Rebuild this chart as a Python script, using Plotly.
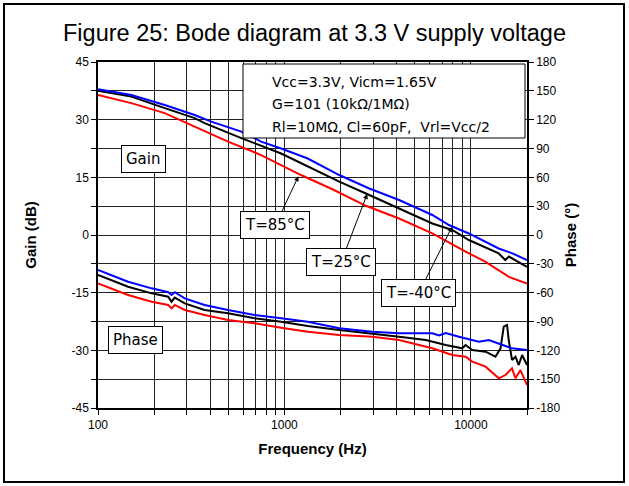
import numpy as np
import plotly.graph_objects as go

# Gain curves (dB, left axis)
freq_gain_blue = [100, 151, 228, 330, 405, 587, 750, 960, 1333, 1968, 2850, 4120, 6210, 7630, 9750, 14100, 16560, 20000]
gain_blue = [37.9, 36.4, 33.8, 31.2, 29.5, 26.9, 24.3, 22.5, 19.9, 15.6, 12.1, 9.1, 5.2, 2.6, 0.4, -3.5, -4.7, -6.5]

freq_gain_black = [100, 151, 228, 330, 373, 587, 960, 1333, 1968, 2735, 4120, 6210, 7940, 9750, 14100, 15300, 16000, 20000]
gain_black = [37.5, 36.0, 33.0, 30.4, 29.1, 25.2, 21.2, 17.8, 13.9, 10.8, 6.9, 3.0, 1.3, -1.3, -4.8, -6.5, -5.6, -8.3]

freq_gain_red = [100, 151, 228, 330, 498, 750, 1227, 1808, 2735, 4120, 6210, 9370, 11990, 16000, 20000]
gain_red = [36.4, 34.3, 31.7, 28.2, 24.3, 20.8, 15.6, 11.9, 7.6, 4.3, 0.4, -4.3, -7.0, -10.9, -12.6]

# Phase curves (degrees, right axis)
freq_phase_blue = [100, 145, 194, 238, 248, 258, 292, 373, 498, 691, 960, 1333, 1968, 2965, 4120,
                   6210, 6750, 7330, 8630, 11040, 12480, 14120, 16620, 20000]
phase_blue = [-36.4, -48.6, -55.5, -59.6, -62.4, -59.5, -65.9, -72.8, -78.0, -83.2, -86.7, -90.2, -97.1, -100.6, -102.3,
              -102.3, -104.5, -102.0, -105.8, -111.0, -109.3, -112.7, -117.9, -119.7]

freq_phase_black = [100, 145, 194, 238, 248, 258, 292, 373, 498, 691, 960, 1333, 1968, 2965, 4120, 5730, 7330,
                    8980, 9370, 10170, 11990, 13550, 14420, 15010, 15630, 15960, 16620, 17340, 18060, 18830, 20000]
phase_black = [-41.6, -53.8, -60.7, -64.2, -69.4, -65.2, -71.1, -78.0, -81.5, -86.7, -90.2, -94.7, -98.9, -102.3,
               -105.8, -109.3, -114.5, -117.9, -114.5, -119.7, -121.4, -126.6, -117.9, -95.4, -93.6, -109.3,
               -130.0, -126.6, -135.3, -124.9, -135.3]

freq_phase_red = [100, 145, 194, 238, 248, 258, 292, 373, 498, 691, 960, 1333, 1968, 2965, 4120, 5730, 6210,
                  7940, 9370, 10170, 11990, 14120, 15320, 16620, 17340, 18440, 20000]
phase_red = [-50.3, -62.4, -69.4, -72.8, -76.3, -72.8, -78.0, -83.2, -88.4, -91.9, -96.4, -100.6, -104.1, -105.8,
             -109.3, -116.2, -117.9, -124.9, -126.6, -131.8, -137.0, -149.1, -145.7, -138.7, -149.1, -140.5, -156.0]

# Axis ticks
freq_ticks = [100, 200, 300, 400, 500, 600, 700, 800, 900, 1000, 2000, 3000, 4000, 5000, 6000, 7000, 8000, 9000,
              10000, 20000]
freq_labels = ["100"] + [""] * 8 + ["1000"] + [""] * 8 + ["10000", ""]
gain_ticks = [-45, -37.5, -30, -22.5, -15, -7.5, 0, 7.5, 15, 22.5, 30, 37.5, 45]
gain_labels = ["-45", "", "-30", "", "-15", "", "0", "", "15", "", "30", "", "45"]
phase_ticks = [-180, -150, -120, -90, -60, -30, 0, 30, 60, 90, 120, 150, 180]
phase_labels = ["-180", "-150", "-120", "-90", "-60", "-30", "0", "30", "60", "90", "120", "150", "180"]

ARIAL = "Liberation Sans, Arial, sans-serif"
VERDANA = "DejaVu Sans, Verdana, sans-serif"

fig = go.Figure()
for f, v, c in [(freq_gain_red, gain_red, "#ff0000"), (freq_gain_black, gain_black, "#000000"),
                (freq_gain_blue, gain_blue, "#0000ff")]:
    fig.add_trace(go.Scatter(x=f, y=v, mode="lines", line=dict(color=c, width=2), showlegend=False))
for f, v, c in [(freq_phase_red, phase_red, "#ff0000"), (freq_phase_black, phase_black, "#000000"),
                (freq_phase_blue, phase_blue, "#0000ff")]:
    fig.add_trace(go.Scatter(x=f, y=v, mode="lines", line=dict(color=c, width=2), yaxis="y2", showlegend=False))

fig.update_layout(
    width=629,
    height=486,
    margin=dict(l=98, r=102, t=62, b=78),
    paper_bgcolor="white",
    plot_bgcolor="white",
    font=dict(family=ARIAL, size=12, color="black"),
    title=dict(text="Figure 25: Bode diagram at 3.3 V supply voltage", x=0.5, xanchor="center",
               y=1 - 33 / 486, yanchor="middle", yref="container",
               font=dict(family=ARIAL, size=23.5)),
    xaxis=dict(type="log", range=[2, np.log10(20000)], tickvals=freq_ticks, ticktext=freq_labels,
               ticks="outside", ticklen=5, tickcolor="black", showgrid=True, gridcolor="#222", gridwidth=1,
               showline=True, linecolor="black", linewidth=1.5, mirror=True, zeroline=False,
               title=dict(text="<b>Frequency (Hz)</b>", font=dict(size=15), standoff=12)),
    yaxis=dict(range=[-45, 45], tickvals=gain_ticks, ticktext=gain_labels, ticks="outside", ticklen=5,
               tickcolor="black", showgrid=True, gridcolor="#222", gridwidth=1, zeroline=False,
               showline=True, linecolor="black", linewidth=1.5,
               title=dict(text="<b>Gain (dB)</b>", font=dict(size=15), standoff=31)),
    yaxis2=dict(range=[-180, 180], overlaying="y", side="right", tickvals=phase_ticks, ticktext=phase_labels,
                ticks="outside", ticklen=5, tickcolor="black", showgrid=False, zeroline=False,
                showline=True, linecolor="black", linewidth=1.5,
                title=dict(text="<b>Phase (°)</b>", font=dict(size=15), standoff=6)),
)


def px(x):
    return (x - 98) / 429


def py(y):
    return (408 - y) / 346


# outer frame and condition box
fig.add_shape(type="rect", xref="paper", yref="paper", x0=px(4), x1=px(624), y0=py(482), y1=py(4),
              line=dict(color="black", width=2))
fig.add_shape(type="rect", xref="paper", yref="paper", x0=px(243), x1=px(525), y0=py(138), y1=py(64),
              line=dict(color="black", width=1), fillcolor="white", layer="above")

cond_lines = ["Vcc=3.3V, Vicm=1.65V", "G=101 (10kΩ/1MΩ)", "Rl=10MΩ, Cl=60pF,\u00a0 Vrl=Vcc/2"]
for i, t in enumerate(cond_lines):
    fig.add_annotation(xref="paper", yref="paper", x=px(270), y=py(81.7 + 22.5 * i), xanchor="left",
                       yanchor="middle", text=t, showarrow=False, font=dict(family=VERDANA, size=14))

box = dict(bordercolor="black", borderwidth=1, bgcolor="white", borderpad=4, font=dict(family=VERDANA, size=15))
fig.add_annotation(xref="paper", yref="paper", x=px(143), y=py(159), xanchor="center", yanchor="middle",
                   text="Gain", showarrow=False, **box)
fig.add_annotation(xref="paper", yref="paper", x=px(135), y=py(340), xanchor="center", yanchor="middle",
                   text="Phase", showarrow=False, **box)

# temperature labels with arrows pointing at the gain curves
for f, g, t, ax, ay in [(1189, 15.3, "T=85°C", -23, 49), (2780, 10.7, "T=25°C", -26, 68),
                        (7910, 2.1, "T=-40°C", -33, 66)]:
    fig.add_annotation(x=np.log10(f), y=g, xref="x", yref="y", text=t, showarrow=True, arrowhead=2,
                       arrowsize=1, arrowwidth=1, arrowcolor="black", ax=ax, ay=ay, **box)

# page body has a default 8px margin; drop it so the figure sits at the window origin
fig.write_html("out.html", config={"displayModeBar": False},
               post_script="document.body.style.margin='0';")
